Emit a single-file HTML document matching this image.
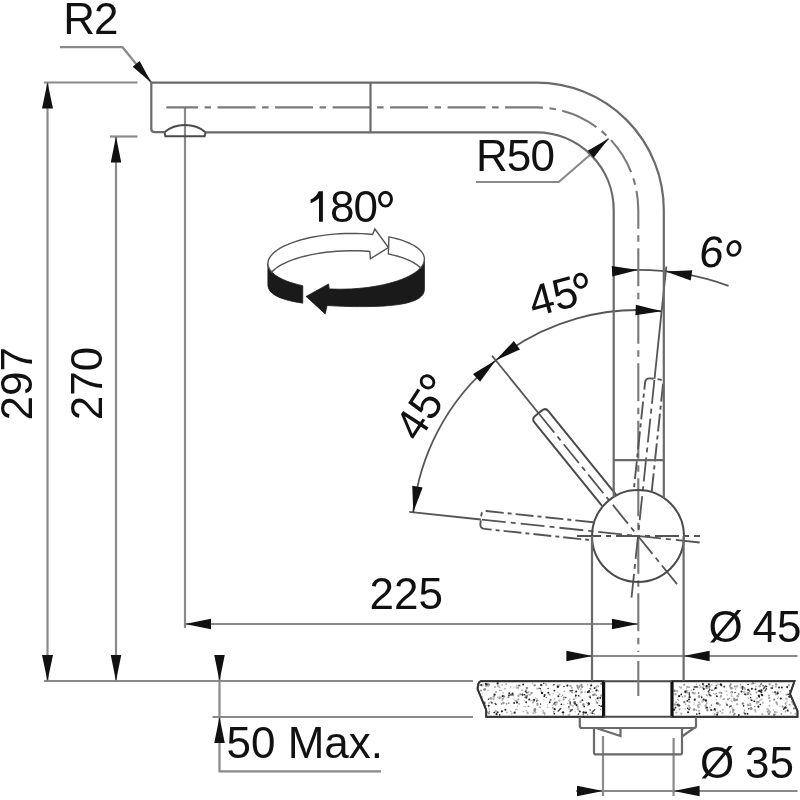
<!DOCTYPE html>
<html><head><meta charset="utf-8"><style>
html,body{margin:0;padding:0;background:#fff;}
svg{display:block;will-change:transform;}
text{font-family:"Liberation Sans",sans-serif;font-size:44px;fill:#111;}
.dg{fill:none;stroke:#111;stroke-width:2.9;}
.ah{fill:#111;stroke:none;}
.dim path{fill:none;stroke:#8a8a8a;stroke-width:2.2;}
.dima path{fill:none;stroke:#555;stroke-width:1.8;}
.obj path,.obj circle{fill:none;stroke:#4a4a4a;stroke-width:2.0;}
.objl path{fill:none;stroke:#6a6a6a;stroke-width:2.2;}
.cl path{fill:none;stroke:#7a7a7a;stroke-width:2.1;stroke-dasharray:38 6.5 6.5 6.5;stroke-dashoffset:6.2;}
.cl2 path{fill:none;stroke:#555;stroke-width:1.9;stroke-dasharray:18 4 4 4;}
.cld path{fill:none;stroke:#555;stroke-width:1.8;stroke-dasharray:24 5 5 5;}
.ib{fill:#1a1a1a;stroke:#1a1a1a;stroke-width:0.8;}
.iw{fill:#fff;stroke:#555;stroke-width:1.4;}
.ct{fill:#fff;stroke:#333;stroke-width:1.7;}

.obj2{fill:none;stroke:#4a4a4a;stroke-width:2;}
.hole{stroke:#111;stroke-width:3.2;}
</style></head><body>
<svg width="800" height="800" viewBox="0 0 800 800">
<rect width="800" height="800" fill="#fff"/>
<path class="ct" d="M480.6,681.2H603.6V716.8H486.2V710L477.6,689Q477.8,682.2 480.6,681.2Z"/>
<path class="ct" d="M672,681.2H794.5L790,694L797.5,711V716.8H672Z"/>
<clipPath id="ctc"><path d="M480.6,681.2H603.6V716.8H486.2V710L477.6,689Q477.8,682.2 480.6,681.2Z"/><path d="M672,681.2H794.5L790,694L797.5,711V716.8H672Z"/></clipPath><g class="sp" clip-path="url(#ctc)"><circle cx="518.16" cy="687.83" r="1.06" fill="#999"/><circle cx="579.84" cy="686.01" r="1.01" fill="#aaa"/><circle cx="482.65" cy="696.88" r="0.65" fill="#999"/><circle cx="546.33" cy="684.89" r="1" fill="#aaa"/><circle cx="556.2" cy="701.66" r="0.64" fill="#888"/><circle cx="484.15" cy="690.07" r="0.99" fill="#aaa"/><circle cx="513.91" cy="687.62" r="0.68" fill="#bbb"/><circle cx="547.47" cy="704.82" r="0.67" fill="#aaa"/><circle cx="524.18" cy="700.53" r="0.64" fill="#999"/><circle cx="554.76" cy="698.89" r="0.97" fill="#bbb"/><circle cx="535.73" cy="712.55" r="0.85" fill="#aaa"/><circle cx="576.5" cy="705.37" r="0.77" fill="#bbb"/><circle cx="543.12" cy="711" r="1.11" fill="#bbb"/><circle cx="553.51" cy="685.34" r="0.96" fill="#aaa"/><circle cx="571.89" cy="687.86" r="0.94" fill="#999"/><circle cx="597.29" cy="685.48" r="0.99" fill="#bbb"/><circle cx="520.18" cy="694.21" r="0.95" fill="#888"/><circle cx="486.53" cy="686" r="0.79" fill="#999"/><circle cx="485.52" cy="705.45" r="1.05" fill="#888"/><circle cx="513.29" cy="695.35" r="1.07" fill="#999"/><circle cx="594.64" cy="694.37" r="1.03" fill="#888"/><circle cx="485.31" cy="707.58" r="0.69" fill="#aaa"/><circle cx="527.34" cy="712.34" r="0.95" fill="#aaa"/><circle cx="533.7" cy="700.58" r="1.22" fill="#888"/><circle cx="585.13" cy="691.91" r="0.89" fill="#bbb"/><circle cx="562.66" cy="695.17" r="0.76" fill="#999"/><circle cx="499.85" cy="690.42" r="0.76" fill="#888"/><circle cx="581.06" cy="688.83" r="0.8" fill="#aaa"/><circle cx="529.95" cy="694.82" r="1" fill="#aaa"/><circle cx="563.62" cy="699.5" r="1.03" fill="#999"/><circle cx="534.62" cy="710.87" r="1.27" fill="#888"/><circle cx="527.36" cy="695.61" r="0.94" fill="#888"/><circle cx="485.72" cy="685.16" r="0.75" fill="#aaa"/><circle cx="491.63" cy="702.22" r="0.67" fill="#aaa"/><circle cx="544.54" cy="713.37" r="1.03" fill="#999"/><circle cx="586.42" cy="702.65" r="0.7" fill="#bbb"/><circle cx="596.48" cy="702.27" r="0.93" fill="#999"/><circle cx="583.27" cy="714.78" r="0.93" fill="#888"/><circle cx="516.67" cy="687.61" r="1.12" fill="#bbb"/><circle cx="537.35" cy="705.15" r="0.96" fill="#aaa"/><circle cx="595.92" cy="699.9" r="0.7" fill="#999"/><circle cx="572.01" cy="692.54" r="1.05" fill="#999"/><circle cx="564.33" cy="691.36" r="0.86" fill="#aaa"/><circle cx="522.11" cy="690.13" r="0.98" fill="#bbb"/><circle cx="556.92" cy="702.62" r="1.15" fill="#aaa"/><circle cx="577.95" cy="709.19" r="1.12" fill="#aaa"/><circle cx="502.79" cy="698.77" r="1.11" fill="#999"/><circle cx="575.97" cy="698.11" r="0.74" fill="#bbb"/><circle cx="533.46" cy="712.98" r="1.29" fill="#bbb"/><circle cx="487.99" cy="686.27" r="0.93" fill="#bbb"/><circle cx="503.34" cy="702.97" r="1.23" fill="#999"/><circle cx="537.45" cy="703.9" r="1.16" fill="#999"/><circle cx="581.5" cy="686.84" r="0.87" fill="#aaa"/><circle cx="537.28" cy="688.71" r="1.15" fill="#bbb"/><circle cx="488.76" cy="713.28" r="1.11" fill="#888"/><circle cx="527.77" cy="713.3" r="1.11" fill="#aaa"/><circle cx="601.15" cy="683.88" r="1.01" fill="#888"/><circle cx="578.01" cy="687.68" r="1.18" fill="#888"/><circle cx="559.5" cy="694.21" r="0.98" fill="#aaa"/><circle cx="480.65" cy="708.58" r="1.11" fill="#999"/><circle cx="543.3" cy="712.88" r="0.9" fill="#aaa"/><circle cx="580.44" cy="689.75" r="0.78" fill="#bbb"/><circle cx="540.14" cy="707.44" r="0.83" fill="#888"/><circle cx="581.44" cy="684.95" r="1.12" fill="#888"/><circle cx="560.15" cy="709.08" r="0.96" fill="#aaa"/><circle cx="543.95" cy="699.75" r="0.61" fill="#888"/><circle cx="574.29" cy="702.47" r="1.14" fill="#aaa"/><circle cx="499.37" cy="698.15" r="1.11" fill="#999"/><circle cx="518.42" cy="699.59" r="0.99" fill="#999"/><circle cx="587.52" cy="684.82" r="0.73" fill="#999"/><circle cx="573.76" cy="699.25" r="0.99" fill="#999"/><circle cx="532.96" cy="702.6" r="0.95" fill="#aaa"/><circle cx="563.9" cy="697.48" r="0.97" fill="#888"/><circle cx="540.96" cy="690.92" r="0.97" fill="#bbb"/><circle cx="592.43" cy="711.57" r="0.74" fill="#888"/><circle cx="495" cy="686.89" r="0.91" fill="#999"/><circle cx="561.22" cy="696.71" r="0.75" fill="#bbb"/><circle cx="575.21" cy="711.7" r="0.71" fill="#bbb"/><circle cx="495.73" cy="711.25" r="1.28" fill="#aaa"/><circle cx="570.59" cy="686.01" r="1.22" fill="#aaa"/><circle cx="600.74" cy="709.64" r="0.71" fill="#888"/><circle cx="601.27" cy="695.92" r="0.89" fill="#bbb"/><circle cx="517.5" cy="706.11" r="0.61" fill="#888"/><circle cx="532.62" cy="683.58" r="0.83" fill="#bbb"/><circle cx="541.52" cy="685.06" r="1.29" fill="#aaa"/><circle cx="598.49" cy="686.35" r="0.79" fill="#999"/><circle cx="590.33" cy="688.81" r="1.13" fill="#888"/><circle cx="583.35" cy="704.63" r="1.26" fill="#888"/><circle cx="496.52" cy="712.41" r="1" fill="#bbb"/><circle cx="489.09" cy="684.84" r="1.08" fill="#888"/><circle cx="589.02" cy="691.61" r="0.61" fill="#999"/><circle cx="577.4" cy="685.68" r="1.2" fill="#999"/><circle cx="510.79" cy="686.89" r="0.61" fill="#888"/><circle cx="592.91" cy="691.57" r="0.69" fill="#aaa"/><circle cx="594.33" cy="714.01" r="0.78" fill="#aaa"/><circle cx="503.02" cy="692.98" r="0.81" fill="#aaa"/><circle cx="513.96" cy="699" r="0.72" fill="#bbb"/><circle cx="577.66" cy="714.82" r="0.63" fill="#999"/><circle cx="568.9" cy="700.63" r="0.73" fill="#888"/><circle cx="508.46" cy="697.31" r="1.06" fill="#888"/><circle cx="559.41" cy="700.47" r="1.22" fill="#bbb"/><circle cx="563.28" cy="714.44" r="0.84" fill="#aaa"/><circle cx="528.18" cy="694.12" r="0.64" fill="#aaa"/><circle cx="479.77" cy="703.01" r="1.22" fill="#888"/><circle cx="498.24" cy="685.7" r="1.19" fill="#bbb"/><circle cx="552.25" cy="705.17" r="0.63" fill="#aaa"/><circle cx="497.53" cy="697.27" r="0.78" fill="#bbb"/><circle cx="598.61" cy="700.51" r="0.77" fill="#bbb"/><circle cx="505.02" cy="688.85" r="0.83" fill="#999"/><circle cx="536.86" cy="699.09" r="0.74" fill="#999"/><circle cx="489.27" cy="709.15" r="0.7" fill="#999"/><circle cx="526.85" cy="692.59" r="1.04" fill="#999"/><circle cx="550.61" cy="699.93" r="1.13" fill="#888"/><circle cx="572.77" cy="706.06" r="0.95" fill="#bbb"/><circle cx="567.8" cy="703.58" r="0.63" fill="#888"/><circle cx="569" cy="708.99" r="0.7" fill="#999"/><circle cx="580.47" cy="701.69" r="1.22" fill="#aaa"/><circle cx="488.55" cy="684.34" r="1.05" fill="#999"/><circle cx="524.7" cy="697.44" r="0.64" fill="#999"/><circle cx="555.65" cy="704.78" r="0.94" fill="#999"/><circle cx="534.66" cy="685.24" r="1.25" fill="#999"/><circle cx="559.75" cy="685.11" r="1.12" fill="#bbb"/><circle cx="578.34" cy="710.08" r="0.76" fill="#aaa"/><circle cx="506.61" cy="703.8" r="0.92" fill="#888"/><circle cx="487.52" cy="712.13" r="0.8" fill="#999"/><circle cx="554.5" cy="703.57" r="0.65" fill="#aaa"/><circle cx="519.14" cy="703.85" r="1.09" fill="#aaa"/><circle cx="479.55" cy="684.94" r="0.79" fill="#999"/><circle cx="563.83" cy="704.62" r="0.8" fill="#bbb"/><circle cx="535.62" cy="697.92" r="0.68" fill="#aaa"/><circle cx="516.65" cy="685.75" r="0.93" fill="#bbb"/><circle cx="534.91" cy="709.24" r="1.28" fill="#888"/><circle cx="601.25" cy="695.38" r="1.24" fill="#aaa"/><circle cx="487.25" cy="685.89" r="1.12" fill="#bbb"/><circle cx="596.14" cy="687.24" r="1.17" fill="#bbb"/><circle cx="587.97" cy="705.51" r="0.76" fill="#888"/><circle cx="526.87" cy="688.09" r="1.26" fill="#888"/><circle cx="528.27" cy="706.27" r="0.89" fill="#888"/><circle cx="517.19" cy="709.89" r="0.6" fill="#bbb"/><circle cx="582.05" cy="686.84" r="1.25" fill="#999"/><circle cx="589.79" cy="692.27" r="0.86" fill="#888"/><circle cx="526.38" cy="710.84" r="0.65" fill="#888"/><circle cx="571.7" cy="710.34" r="0.8" fill="#999"/><circle cx="581.5" cy="692.14" r="1.25" fill="#aaa"/><circle cx="598.41" cy="696.96" r="0.82" fill="#bbb"/><circle cx="575.36" cy="696.69" r="0.62" fill="#888"/><circle cx="591.26" cy="713.1" r="0.98" fill="#999"/><circle cx="484.14" cy="706.44" r="0.92" fill="#aaa"/><circle cx="557.92" cy="692.16" r="0.63" fill="#aaa"/><circle cx="499.17" cy="696.28" r="0.8" fill="#bbb"/><circle cx="569.64" cy="714.24" r="0.78" fill="#aaa"/><circle cx="515.3" cy="700.83" r="0.88" fill="#aaa"/><circle cx="557.76" cy="685.41" r="0.95" fill="#888"/><circle cx="546.25" cy="697.5" r="0.83" fill="#888"/><circle cx="531" cy="700.53" r="0.77" fill="#aaa"/><circle cx="520.4" cy="685.92" r="0.77" fill="#bbb"/><circle cx="578.36" cy="689.47" r="0.61" fill="#888"/><circle cx="525.47" cy="706.87" r="0.75" fill="#bbb"/><circle cx="519.94" cy="684.99" r="0.79" fill="#bbb"/><circle cx="493.61" cy="699.11" r="1.04" fill="#aaa"/><circle cx="489.48" cy="711.7" r="0.87" fill="#888"/><circle cx="531.55" cy="692.98" r="1.17" fill="#999"/><circle cx="493.78" cy="696.61" r="1.13" fill="#888"/><circle cx="598.07" cy="698.67" r="0.65" fill="#888"/><circle cx="598.56" cy="690.95" r="0.68" fill="#aaa"/><circle cx="496.86" cy="714.1" r="0.68" fill="#888"/><circle cx="488.54" cy="707.86" r="0.6" fill="#aaa"/><circle cx="506.84" cy="712.44" r="1.05" fill="#bbb"/><circle cx="597.34" cy="703.05" r="0.97" fill="#888"/><circle cx="564.62" cy="686.59" r="0.65" fill="#aaa"/><circle cx="526.12" cy="690.15" r="1.02" fill="#999"/><circle cx="544.65" cy="714.88" r="0.8" fill="#bbb"/><circle cx="557.93" cy="711.28" r="0.93" fill="#aaa"/><circle cx="545.83" cy="683.94" r="0.89" fill="#bbb"/><circle cx="484.86" cy="689.21" r="1.22" fill="#888"/><circle cx="488.06" cy="690.29" r="0.9" fill="#bbb"/><circle cx="506.12" cy="684.09" r="0.84" fill="#888"/><circle cx="522.93" cy="695.68" r="0.6" fill="#bbb"/><circle cx="569.65" cy="699.16" r="0.74" fill="#aaa"/><circle cx="516.65" cy="709.24" r="0.76" fill="#aaa"/><circle cx="510.86" cy="711.46" r="0.68" fill="#888"/><circle cx="553.65" cy="711.69" r="0.94" fill="#999"/><circle cx="595.65" cy="687.68" r="0.88" fill="#aaa"/><circle cx="480.93" cy="702.08" r="0.89" fill="#999"/><circle cx="500.83" cy="697.39" r="1.1" fill="#bbb"/><circle cx="568.86" cy="714.92" r="1.25" fill="#bbb"/><circle cx="501.64" cy="703.88" r="0.97" fill="#888"/><circle cx="481.95" cy="704.26" r="0.87" fill="#bbb"/><circle cx="600.14" cy="697.16" r="0.68" fill="#999"/><circle cx="512.7" cy="694.25" r="1.27" fill="#999"/><circle cx="547.58" cy="707.28" r="0.87" fill="#bbb"/><circle cx="579.93" cy="696.84" r="0.63" fill="#888"/><circle cx="502.27" cy="700.33" r="0.91" fill="#bbb"/><circle cx="523.17" cy="711.7" r="0.62" fill="#888"/><circle cx="508.75" cy="703.01" r="0.88" fill="#888"/><circle cx="482.32" cy="685" r="1.24" fill="#bbb"/><circle cx="502.17" cy="685.01" r="1.02" fill="#bbb"/><circle cx="511.77" cy="713.65" r="1.03" fill="#bbb"/><circle cx="570.56" cy="705.07" r="1.25" fill="#bbb"/><circle cx="478.47" cy="707.18" r="1.24" fill="#999"/><circle cx="481.01" cy="690.48" r="0.93" fill="#888"/><circle cx="596.28" cy="695.37" r="0.78" fill="#888"/><circle cx="579.04" cy="687.25" r="0.95" fill="#999"/><circle cx="577.52" cy="706.63" r="1.18" fill="#aaa"/><circle cx="553.3" cy="693.49" r="0.82" fill="#bbb"/><circle cx="575.2" cy="702.06" r="0.96" fill="#888"/><circle cx="571.36" cy="690.91" r="0.65" fill="#999"/><circle cx="537.73" cy="700.43" r="0.71" fill="#888"/><circle cx="587.55" cy="714.61" r="0.79" fill="#999"/><circle cx="503.83" cy="696.47" r="1.29" fill="#888"/><circle cx="499.48" cy="687.25" r="0.92" fill="#aaa"/><circle cx="570.75" cy="710.1" r="1.07" fill="#999"/><circle cx="574.69" cy="692.41" r="0.8" fill="#bbb"/><circle cx="524.25" cy="706.62" r="0.74" fill="#aaa"/><circle cx="501.03" cy="690.54" r="0.8" fill="#aaa"/><circle cx="518.47" cy="695.67" r="1.29" fill="#aaa"/><circle cx="558.56" cy="686.22" r="0.92" fill="#999"/><circle cx="490.69" cy="698.19" r="1.17" fill="#888"/><circle cx="591.38" cy="684.29" r="0.81" fill="#999"/><circle cx="484.25" cy="702.22" r="1.18" fill="#aaa"/><circle cx="593.34" cy="694.91" r="1.21" fill="#888"/><circle cx="552.78" cy="707.8" r="1.07" fill="#999"/><circle cx="491.12" cy="702.08" r="1.03" fill="#aaa"/><circle cx="482.64" cy="693.88" r="0.63" fill="#bbb"/><circle cx="482.74" cy="706.43" r="1.24" fill="#999"/><circle cx="579.54" cy="696.09" r="0.86" fill="#bbb"/><circle cx="487.66" cy="684.01" r="0.95" fill="#888"/><circle cx="485.85" cy="686.24" r="0.88" fill="#aaa"/><circle cx="557.26" cy="685.92" r="0.71" fill="#bbb"/><circle cx="528.81" cy="692.07" r="0.82" fill="#999"/><circle cx="516.73" cy="701.13" r="0.85" fill="#888"/><circle cx="480.26" cy="707.53" r="1.16" fill="#aaa"/><circle cx="526.45" cy="695.96" r="1.26" fill="#888"/><circle cx="589.8" cy="696.56" r="1.17" fill="#888"/><circle cx="549.65" cy="694.67" r="1.14" fill="#aaa"/><circle cx="479.84" cy="700.65" r="1.05" fill="#888"/><circle cx="489.04" cy="702.91" r="0.86" fill="#aaa"/><circle cx="496.09" cy="692.07" r="0.96" fill="#999"/><circle cx="491.49" cy="698.7" r="1.16" fill="#aaa"/><circle cx="515.4" cy="709.79" r="0.63" fill="#888"/><circle cx="517" cy="702.44" r="1.02" fill="#222"/><circle cx="488.7" cy="705.79" r="1.04" fill="#222"/><circle cx="588.5" cy="703.49" r="1.13" fill="#222"/><circle cx="555.01" cy="702.67" r="0.8" fill="#222"/><circle cx="536.65" cy="701.09" r="0.72" fill="#222"/><circle cx="594.38" cy="688.01" r="0.88" fill="#222"/><circle cx="496.53" cy="714.06" r="1.11" fill="#222"/><circle cx="501.88" cy="711.28" r="1.12" fill="#222"/><circle cx="561.36" cy="704.37" r="0.86" fill="#222"/><circle cx="526.34" cy="697.58" r="1.12" fill="#222"/><circle cx="574.48" cy="703.77" r="0.85" fill="#222"/><circle cx="508.91" cy="695.45" r="0.88" fill="#222"/><circle cx="540.44" cy="688.72" r="0.7" fill="#222"/><circle cx="600.28" cy="697.89" r="0.92" fill="#222"/><circle cx="554.7" cy="709.21" r="1.12" fill="#222"/><circle cx="578.51" cy="695.81" r="0.73" fill="#222"/><circle cx="522.46" cy="694.69" r="1.1" fill="#222"/><circle cx="540.54" cy="704.03" r="0.72" fill="#222"/><circle cx="494.15" cy="712.51" r="0.86" fill="#222"/><circle cx="567.33" cy="685.56" r="1.08" fill="#222"/><circle cx="588.96" cy="703.89" r="1.09" fill="#222"/><circle cx="481.21" cy="685.12" r="1.01" fill="#222"/><circle cx="563.88" cy="686.51" r="0.77" fill="#222"/><circle cx="587.83" cy="692.21" r="1.11" fill="#222"/><circle cx="576.58" cy="704.96" r="1.06" fill="#222"/><circle cx="505.42" cy="709.66" r="1.01" fill="#222"/><circle cx="509.28" cy="693.36" r="1.01" fill="#222"/><circle cx="590.23" cy="697.6" r="0.83" fill="#222"/><circle cx="597.58" cy="698.36" r="1" fill="#222"/><circle cx="554.37" cy="690.6" r="0.89" fill="#222"/><circle cx="502.67" cy="695.91" r="1.02" fill="#222"/><circle cx="512.5" cy="693.49" r="0.89" fill="#222"/><circle cx="576.22" cy="691.46" r="1.08" fill="#222"/><circle cx="484.02" cy="710.47" r="1.18" fill="#222"/><circle cx="534.18" cy="699.69" r="1.04" fill="#222"/><circle cx="589.12" cy="691.07" r="0.97" fill="#222"/><circle cx="584.22" cy="706.61" r="0.89" fill="#222"/><circle cx="524.59" cy="694.81" r="0.77" fill="#222"/><circle cx="519.02" cy="685.6" r="0.82" fill="#222"/><circle cx="554.31" cy="713.66" r="0.85" fill="#222"/><circle cx="542" cy="692.92" r="1.18" fill="#222"/><circle cx="585.92" cy="712.71" r="1.15" fill="#222"/><circle cx="568.9" cy="706.91" r="0.81" fill="#222"/><circle cx="514.08" cy="703.02" r="0.91" fill="#222"/><circle cx="523.15" cy="684.53" r="0.94" fill="#222"/><circle cx="553.95" cy="684.46" r="0.73" fill="#222"/><circle cx="548.32" cy="692.72" r="0.96" fill="#222"/><circle cx="544.23" cy="696.22" r="0.85" fill="#222"/><circle cx="494.58" cy="694.72" r="1.11" fill="#222"/><circle cx="497.67" cy="683.45" r="1.1" fill="#222"/><circle cx="565.73" cy="697.43" r="0.73" fill="#222"/><circle cx="495.94" cy="704.3" r="0.83" fill="#222"/><circle cx="578.63" cy="713.95" r="0.73" fill="#222"/><circle cx="579.79" cy="711.57" r="1" fill="#222"/><circle cx="549.73" cy="702.26" r="0.96" fill="#222"/><circle cx="539.11" cy="688.28" r="0.7" fill="#222"/><circle cx="485.63" cy="683.81" r="0.79" fill="#222"/><circle cx="497.74" cy="712.18" r="0.75" fill="#222"/><circle cx="553.97" cy="704.02" r="0.8" fill="#222"/><circle cx="529.23" cy="699.58" r="1.02" fill="#222"/><circle cx="558.3" cy="696.29" r="1.01" fill="#222"/><circle cx="541.06" cy="685.04" r="1.01" fill="#222"/><circle cx="601.26" cy="706.18" r="0.94" fill="#222"/><circle cx="544.76" cy="695.01" r="0.92" fill="#222"/><circle cx="591.12" cy="685.58" r="1.03" fill="#222"/><circle cx="499.75" cy="714.89" r="0.83" fill="#222"/><circle cx="557.86" cy="686.94" r="1.15" fill="#222"/><circle cx="592.72" cy="713.17" r="0.83" fill="#222"/><circle cx="484.51" cy="703.35" r="1.04" fill="#222"/><circle cx="563.03" cy="712.35" r="1.19" fill="#222"/><circle cx="514.66" cy="712.71" r="1.15" fill="#222"/><circle cx="488.59" cy="699.24" r="0.78" fill="#222"/><circle cx="590.18" cy="709.94" r="0.8" fill="#222"/><circle cx="497.74" cy="712.28" r="0.8" fill="#222"/><circle cx="526.2" cy="702.24" r="0.89" fill="#222"/><circle cx="583.64" cy="712.49" r="1.19" fill="#222"/><circle cx="582.35" cy="700.16" r="0.94" fill="#222"/><circle cx="543.8" cy="683.2" r="0.71" fill="#222"/><circle cx="596.51" cy="690.48" r="1.14" fill="#222"/><circle cx="575.86" cy="695.53" r="0.99" fill="#222"/><circle cx="548.09" cy="688.49" r="0.72" fill="#222"/><circle cx="491.87" cy="702.9" r="0.78" fill="#222"/><circle cx="599.2" cy="705.42" r="0.72" fill="#222"/><circle cx="495.16" cy="703.59" r="0.72" fill="#222"/><circle cx="486.41" cy="684.49" r="1.13" fill="#222"/><path d="M572.8,690.38L570.03,690.78" stroke="#444" stroke-width="1.4" stroke-linecap="round"/><path d="M560.8,708.57L558.6,710.7" stroke="#444" stroke-width="1.4" stroke-linecap="round"/><path d="M525.24,691.29L526.88,692.52" stroke="#444" stroke-width="1.4" stroke-linecap="round"/><path d="M594.67,709.77L593.15,711.26" stroke="#444" stroke-width="1.4" stroke-linecap="round"/><path d="M570.09,701.61L570.25,703.8" stroke="#444" stroke-width="1.4" stroke-linecap="round"/><path d="M574.28,702.1L575.79,704.1" stroke="#444" stroke-width="1.4" stroke-linecap="round"/><path d="M512.35,694.6L510.33,695.05" stroke="#444" stroke-width="1.4" stroke-linecap="round"/><path d="M572.27,709.53L570.1,711.45" stroke="#444" stroke-width="1.4" stroke-linecap="round"/><circle cx="732.08" cy="692.2" r="1.12" fill="#888"/><circle cx="677.81" cy="699.6" r="0.67" fill="#888"/><circle cx="759.97" cy="700.21" r="0.75" fill="#999"/><circle cx="744.09" cy="692.19" r="0.91" fill="#aaa"/><circle cx="709.18" cy="707.02" r="0.64" fill="#bbb"/><circle cx="733.88" cy="698.73" r="1.16" fill="#aaa"/><circle cx="791.99" cy="701.96" r="1.27" fill="#bbb"/><circle cx="744.52" cy="688.08" r="1.17" fill="#aaa"/><circle cx="734.79" cy="686.52" r="1.05" fill="#999"/><circle cx="733.82" cy="714.72" r="0.99" fill="#999"/><circle cx="750.61" cy="694.38" r="0.88" fill="#888"/><circle cx="782.8" cy="706.85" r="0.9" fill="#999"/><circle cx="719.38" cy="692.7" r="0.9" fill="#aaa"/><circle cx="720.28" cy="711.29" r="0.76" fill="#888"/><circle cx="689.48" cy="702.01" r="1.08" fill="#999"/><circle cx="716.52" cy="693.45" r="0.71" fill="#888"/><circle cx="754.78" cy="706.74" r="0.72" fill="#888"/><circle cx="758.07" cy="691.23" r="0.76" fill="#bbb"/><circle cx="730.37" cy="711.32" r="0.77" fill="#aaa"/><circle cx="706.63" cy="707.15" r="1.18" fill="#aaa"/><circle cx="762.25" cy="714.19" r="1.11" fill="#bbb"/><circle cx="693.63" cy="693.5" r="0.73" fill="#999"/><circle cx="694.08" cy="704.05" r="0.74" fill="#aaa"/><circle cx="794.03" cy="708.44" r="1.11" fill="#888"/><circle cx="707.41" cy="686.5" r="1.24" fill="#bbb"/><circle cx="699.19" cy="695.43" r="0.62" fill="#888"/><circle cx="778.23" cy="696.97" r="0.76" fill="#bbb"/><circle cx="730.52" cy="687.54" r="1.02" fill="#888"/><circle cx="674.67" cy="690.75" r="1.2" fill="#888"/><circle cx="777.21" cy="704.37" r="1.06" fill="#aaa"/><circle cx="756.91" cy="703.53" r="0.92" fill="#bbb"/><circle cx="705.7" cy="705.42" r="1.23" fill="#aaa"/><circle cx="769.45" cy="705.82" r="1.04" fill="#bbb"/><circle cx="777.63" cy="698.45" r="0.61" fill="#888"/><circle cx="737.23" cy="704.16" r="1.21" fill="#bbb"/><circle cx="768.94" cy="695.44" r="0.94" fill="#999"/><circle cx="678.65" cy="700.39" r="0.71" fill="#aaa"/><circle cx="737.34" cy="686.23" r="1" fill="#aaa"/><circle cx="761.51" cy="699.39" r="1.05" fill="#bbb"/><circle cx="737.65" cy="696.13" r="1.26" fill="#aaa"/><circle cx="794.81" cy="688.88" r="0.96" fill="#999"/><circle cx="762.95" cy="702.65" r="1.05" fill="#bbb"/><circle cx="707.47" cy="695.79" r="0.61" fill="#888"/><circle cx="785.68" cy="703.11" r="1.07" fill="#bbb"/><circle cx="687.33" cy="692.71" r="0.88" fill="#aaa"/><circle cx="795.3" cy="713.75" r="0.92" fill="#aaa"/><circle cx="689.77" cy="707.85" r="1.17" fill="#aaa"/><circle cx="731.24" cy="700.99" r="0.76" fill="#aaa"/><circle cx="717.08" cy="703.44" r="1.17" fill="#888"/><circle cx="731.11" cy="692.42" r="0.98" fill="#aaa"/><circle cx="769.14" cy="698.02" r="1.15" fill="#aaa"/><circle cx="706.63" cy="695.04" r="0.78" fill="#888"/><circle cx="756.82" cy="698.41" r="1.16" fill="#bbb"/><circle cx="717.67" cy="703.94" r="0.82" fill="#888"/><circle cx="726.28" cy="703.39" r="1.06" fill="#bbb"/><circle cx="692.64" cy="692.7" r="0.87" fill="#999"/><circle cx="775" cy="711.99" r="1.15" fill="#aaa"/><circle cx="738.74" cy="694.04" r="1.01" fill="#999"/><circle cx="699.59" cy="685.3" r="0.81" fill="#999"/><circle cx="744.58" cy="710.33" r="0.73" fill="#888"/><circle cx="716.27" cy="687.89" r="1.23" fill="#aaa"/><circle cx="748.36" cy="705.02" r="1.28" fill="#999"/><circle cx="755.55" cy="711.61" r="1.15" fill="#bbb"/><circle cx="698.08" cy="705.17" r="0.97" fill="#888"/><circle cx="755.89" cy="686.74" r="0.68" fill="#888"/><circle cx="702.57" cy="687.46" r="0.95" fill="#999"/><circle cx="733.09" cy="711.97" r="1.09" fill="#aaa"/><circle cx="734.78" cy="700.27" r="1.2" fill="#999"/><circle cx="693.56" cy="693.26" r="1.09" fill="#888"/><circle cx="755.17" cy="709.9" r="0.86" fill="#888"/><circle cx="795.99" cy="704.63" r="0.73" fill="#bbb"/><circle cx="751.61" cy="683.91" r="1.03" fill="#bbb"/><circle cx="772.65" cy="686.01" r="0.94" fill="#aaa"/><circle cx="678.14" cy="705.98" r="1.04" fill="#bbb"/><circle cx="685.52" cy="704.09" r="0.84" fill="#aaa"/><circle cx="708.67" cy="693.94" r="0.78" fill="#999"/><circle cx="774.86" cy="692.37" r="1.18" fill="#888"/><circle cx="714.71" cy="714.5" r="1.21" fill="#bbb"/><circle cx="792.95" cy="703.95" r="1.15" fill="#bbb"/><circle cx="697.46" cy="705.82" r="0.69" fill="#999"/><circle cx="769.67" cy="684.28" r="1.11" fill="#888"/><circle cx="740.54" cy="684.59" r="0.81" fill="#999"/><circle cx="679.66" cy="709.3" r="0.93" fill="#999"/><circle cx="770.26" cy="712.11" r="1.03" fill="#aaa"/><circle cx="750.47" cy="705.28" r="1.02" fill="#999"/><circle cx="699.93" cy="704.34" r="0.92" fill="#aaa"/><circle cx="686.37" cy="688.8" r="0.63" fill="#999"/><circle cx="785.52" cy="703.98" r="0.86" fill="#aaa"/><circle cx="769.96" cy="700.99" r="0.78" fill="#bbb"/><circle cx="696.54" cy="684.1" r="0.61" fill="#999"/><circle cx="734.73" cy="699.71" r="1.18" fill="#888"/><circle cx="744.19" cy="712.4" r="0.91" fill="#999"/><circle cx="756.96" cy="702" r="1.3" fill="#aaa"/><circle cx="732" cy="696.2" r="0.67" fill="#888"/><circle cx="699.9" cy="687.86" r="0.61" fill="#999"/><circle cx="675.14" cy="704.42" r="1.29" fill="#999"/><circle cx="700.63" cy="686.88" r="0.93" fill="#bbb"/><circle cx="761.76" cy="690.75" r="1.11" fill="#aaa"/><circle cx="786.58" cy="694.71" r="1.12" fill="#aaa"/><circle cx="763.03" cy="685.7" r="1.04" fill="#888"/><circle cx="730.19" cy="712.84" r="0.78" fill="#999"/><circle cx="761.5" cy="683.36" r="0.61" fill="#999"/><circle cx="721.45" cy="693" r="1.02" fill="#888"/><circle cx="748.29" cy="693.12" r="1.26" fill="#888"/><circle cx="731.32" cy="688.33" r="1.28" fill="#999"/><circle cx="718.32" cy="703.64" r="1.04" fill="#888"/><circle cx="732.19" cy="707.9" r="0.92" fill="#bbb"/><circle cx="769.72" cy="701.14" r="0.8" fill="#999"/><circle cx="749.87" cy="703.83" r="1.16" fill="#bbb"/><circle cx="780.09" cy="706.22" r="0.61" fill="#aaa"/><circle cx="747.34" cy="692.88" r="0.9" fill="#aaa"/><circle cx="719.95" cy="704.91" r="1.02" fill="#aaa"/><circle cx="772.51" cy="692.07" r="0.6" fill="#bbb"/><circle cx="706.7" cy="688.03" r="1.24" fill="#999"/><circle cx="709.2" cy="687.5" r="1.22" fill="#aaa"/><circle cx="707.41" cy="710.24" r="1.16" fill="#888"/><circle cx="716.32" cy="685.72" r="0.99" fill="#888"/><circle cx="698.45" cy="707.01" r="1.25" fill="#aaa"/><circle cx="711.76" cy="684.84" r="0.88" fill="#aaa"/><circle cx="786.97" cy="701.76" r="0.61" fill="#888"/><circle cx="730.09" cy="685.81" r="1.16" fill="#999"/><circle cx="702.41" cy="701.55" r="1.23" fill="#bbb"/><circle cx="732.14" cy="701.86" r="0.73" fill="#aaa"/><circle cx="685.25" cy="708.79" r="0.8" fill="#bbb"/><circle cx="723.1" cy="699.55" r="0.7" fill="#999"/><circle cx="786.56" cy="698.78" r="1.21" fill="#bbb"/><circle cx="751.19" cy="708.2" r="0.71" fill="#999"/><circle cx="716.08" cy="699.62" r="0.61" fill="#999"/><circle cx="698.97" cy="710.86" r="1" fill="#aaa"/><circle cx="705.91" cy="707.93" r="0.9" fill="#888"/><circle cx="767.6" cy="709.2" r="1.27" fill="#bbb"/><circle cx="776.94" cy="693.84" r="1.3" fill="#888"/><circle cx="684.21" cy="684.63" r="0.99" fill="#888"/><circle cx="733.39" cy="710.06" r="1.23" fill="#888"/><circle cx="786.5" cy="705.6" r="0.66" fill="#bbb"/><circle cx="742.87" cy="703.5" r="1.27" fill="#888"/><circle cx="696.29" cy="710.19" r="0.86" fill="#aaa"/><circle cx="794.99" cy="690.1" r="0.63" fill="#bbb"/><circle cx="788.82" cy="684.9" r="0.99" fill="#999"/><circle cx="776.14" cy="684.51" r="1.15" fill="#888"/><circle cx="680.8" cy="687.63" r="1.13" fill="#aaa"/><circle cx="756.58" cy="692.56" r="1.01" fill="#999"/><circle cx="731.43" cy="694.89" r="0.87" fill="#bbb"/><circle cx="732.72" cy="688.39" r="0.77" fill="#aaa"/><circle cx="785.54" cy="711.55" r="0.93" fill="#aaa"/><circle cx="771.46" cy="688.02" r="1.18" fill="#999"/><circle cx="787.95" cy="710.74" r="1.22" fill="#aaa"/><circle cx="768.95" cy="713.65" r="1.25" fill="#888"/><circle cx="776.75" cy="703.11" r="0.92" fill="#bbb"/><circle cx="713.35" cy="690.48" r="0.68" fill="#bbb"/><circle cx="691.42" cy="690.09" r="0.64" fill="#888"/><circle cx="741.51" cy="687.63" r="1.21" fill="#bbb"/><circle cx="725.03" cy="690.9" r="0.62" fill="#bbb"/><circle cx="714.81" cy="688.37" r="0.94" fill="#bbb"/><circle cx="729.65" cy="698.44" r="0.71" fill="#999"/><circle cx="750.98" cy="708.2" r="1.25" fill="#888"/><circle cx="775.9" cy="686.81" r="1.13" fill="#bbb"/><circle cx="726.71" cy="691.37" r="0.77" fill="#aaa"/><circle cx="685.9" cy="692.26" r="1.23" fill="#999"/><circle cx="775.54" cy="714.31" r="0.7" fill="#999"/><circle cx="727.94" cy="699.25" r="0.96" fill="#888"/><circle cx="674.23" cy="709.63" r="0.97" fill="#aaa"/><circle cx="717.93" cy="684.3" r="0.89" fill="#bbb"/><circle cx="743.7" cy="687.42" r="0.73" fill="#aaa"/><circle cx="760.82" cy="689.29" r="0.66" fill="#999"/><circle cx="782.5" cy="706.39" r="1.13" fill="#aaa"/><circle cx="699.14" cy="702.6" r="1.1" fill="#aaa"/><circle cx="745.12" cy="689.47" r="0.65" fill="#888"/><circle cx="776.61" cy="712.32" r="0.96" fill="#bbb"/><circle cx="714.9" cy="709.94" r="1.21" fill="#888"/><circle cx="685.02" cy="696.1" r="1.13" fill="#aaa"/><circle cx="780.39" cy="691.52" r="0.73" fill="#bbb"/><circle cx="678.47" cy="705.47" r="1" fill="#999"/><circle cx="717.45" cy="712.83" r="1.28" fill="#999"/><circle cx="688.73" cy="705.87" r="1.17" fill="#bbb"/><circle cx="769.05" cy="710.78" r="1" fill="#999"/><circle cx="709.57" cy="686.45" r="1.11" fill="#888"/><circle cx="736.62" cy="699.98" r="0.98" fill="#999"/><circle cx="703.71" cy="685.83" r="1.03" fill="#aaa"/><circle cx="686.53" cy="691.01" r="1.17" fill="#999"/><circle cx="676.37" cy="712.64" r="1.12" fill="#bbb"/><circle cx="676.16" cy="702.18" r="1" fill="#aaa"/><circle cx="759.72" cy="686.29" r="1.21" fill="#aaa"/><circle cx="679.51" cy="686.94" r="0.95" fill="#bbb"/><circle cx="687.42" cy="686.89" r="1.22" fill="#aaa"/><circle cx="779.05" cy="687.71" r="1" fill="#888"/><circle cx="694.05" cy="709.43" r="1.26" fill="#888"/><circle cx="758.65" cy="702.11" r="1.02" fill="#999"/><circle cx="722.27" cy="713.12" r="1.14" fill="#bbb"/><circle cx="722.89" cy="709.83" r="1.1" fill="#bbb"/><circle cx="773.44" cy="710.12" r="0.64" fill="#aaa"/><circle cx="790.86" cy="712.9" r="0.77" fill="#888"/><circle cx="754.9" cy="683.37" r="0.68" fill="#aaa"/><circle cx="682.45" cy="696.86" r="0.95" fill="#999"/><circle cx="701.51" cy="696.46" r="0.88" fill="#888"/><circle cx="751.25" cy="708.9" r="1.22" fill="#999"/><circle cx="678.19" cy="703.53" r="0.79" fill="#bbb"/><circle cx="750.65" cy="708.8" r="0.63" fill="#999"/><circle cx="704.57" cy="699.65" r="0.9" fill="#999"/><circle cx="709.08" cy="692.77" r="1.05" fill="#999"/><circle cx="681.36" cy="713.69" r="1.24" fill="#bbb"/><circle cx="684.31" cy="701.89" r="1.25" fill="#888"/><circle cx="689.12" cy="687.2" r="0.81" fill="#888"/><circle cx="744.44" cy="691.77" r="1.12" fill="#bbb"/><circle cx="776.45" cy="702.52" r="1" fill="#888"/><circle cx="698.55" cy="705.73" r="0.92" fill="#bbb"/><circle cx="748.76" cy="698.01" r="0.82" fill="#aaa"/><circle cx="714.71" cy="689.04" r="0.98" fill="#888"/><circle cx="675.45" cy="694.28" r="1.2" fill="#aaa"/><circle cx="713.52" cy="693.42" r="0.79" fill="#aaa"/><circle cx="710.05" cy="707.71" r="0.71" fill="#999"/><circle cx="747.92" cy="694.14" r="1.06" fill="#888"/><circle cx="775.79" cy="694.33" r="1.13" fill="#aaa"/><circle cx="794.7" cy="704.69" r="1.25" fill="#888"/><circle cx="715.12" cy="694.28" r="1.07" fill="#bbb"/><circle cx="774.19" cy="699.57" r="1.12" fill="#888"/><circle cx="706.78" cy="703.18" r="1.04" fill="#aaa"/><circle cx="724.39" cy="686.31" r="0.89" fill="#999"/><circle cx="734.74" cy="713.81" r="1" fill="#888"/><circle cx="777.69" cy="691.94" r="1.03" fill="#999"/><circle cx="720.31" cy="697.47" r="0.92" fill="#bbb"/><circle cx="709.74" cy="695.5" r="0.99" fill="#888"/><circle cx="753.08" cy="683.22" r="1.12" fill="#888"/><circle cx="720.44" cy="692.6" r="0.98" fill="#aaa"/><circle cx="727.15" cy="695.06" r="0.76" fill="#bbb"/><circle cx="713.51" cy="709.99" r="1.19" fill="#bbb"/><circle cx="698.93" cy="696.65" r="1.24" fill="#999"/><circle cx="677.12" cy="691.21" r="1.23" fill="#bbb"/><circle cx="786.28" cy="707.75" r="0.98" fill="#888"/><circle cx="737.13" cy="699.55" r="1.08" fill="#888"/><circle cx="730.64" cy="684.3" r="1.07" fill="#888"/><circle cx="789.64" cy="704.65" r="0.97" fill="#999"/><circle cx="723.96" cy="699.03" r="1.05" fill="#aaa"/><circle cx="781.34" cy="713.86" r="0.94" fill="#888"/><circle cx="767.61" cy="711.77" r="1.01" fill="#999"/><circle cx="694.83" cy="693.18" r="1.28" fill="#bbb"/><circle cx="736.54" cy="686.54" r="1.23" fill="#bbb"/><circle cx="774.11" cy="714.69" r="1.22" fill="#888"/><circle cx="750.99" cy="699.77" r="1.17" fill="#aaa"/><circle cx="735.6" cy="689.02" r="0.73" fill="#999"/><circle cx="717.09" cy="714.8" r="1.02" fill="#222"/><circle cx="679.16" cy="696.17" r="1.09" fill="#222"/><circle cx="711.42" cy="705.1" r="0.7" fill="#222"/><circle cx="711.14" cy="709.95" r="0.99" fill="#222"/><circle cx="755.51" cy="689.29" r="0.95" fill="#222"/><circle cx="741.5" cy="691.51" r="1.02" fill="#222"/><circle cx="738.84" cy="714.91" r="0.99" fill="#222"/><circle cx="724.15" cy="686.89" r="0.78" fill="#222"/><circle cx="766.66" cy="686.41" r="0.75" fill="#222"/><circle cx="694.81" cy="699.72" r="1.11" fill="#222"/><circle cx="748.79" cy="708.81" r="0.73" fill="#222"/><circle cx="675.52" cy="707.66" r="0.86" fill="#222"/><circle cx="761.29" cy="694.32" r="0.78" fill="#222"/><circle cx="706.53" cy="686.18" r="1.15" fill="#222"/><circle cx="745.04" cy="694.16" r="0.92" fill="#222"/><circle cx="721.05" cy="684.75" r="1.15" fill="#222"/><circle cx="745.08" cy="713.71" r="0.92" fill="#222"/><circle cx="749.66" cy="690.98" r="0.72" fill="#222"/><circle cx="787.56" cy="710.35" r="0.86" fill="#222"/><circle cx="783.66" cy="709.11" r="0.85" fill="#222"/><circle cx="747.51" cy="713.72" r="0.95" fill="#222"/><circle cx="789.86" cy="690.77" r="0.89" fill="#222"/><circle cx="761.65" cy="690.08" r="0.85" fill="#222"/><circle cx="780.79" cy="698.5" r="1.1" fill="#222"/><circle cx="703.69" cy="688.55" r="0.88" fill="#222"/><circle cx="696.76" cy="714.09" r="0.85" fill="#222"/><circle cx="742.51" cy="686.68" r="0.97" fill="#222"/><circle cx="721.04" cy="695.9" r="0.73" fill="#222"/><circle cx="689.04" cy="709.43" r="0.88" fill="#222"/><circle cx="703.88" cy="689.12" r="0.84" fill="#222"/><circle cx="702.94" cy="684.12" r="1.03" fill="#222"/><circle cx="715.65" cy="687.99" r="1.05" fill="#222"/><circle cx="685.3" cy="691.63" r="1.12" fill="#222"/><circle cx="689.59" cy="697.19" r="1.12" fill="#222"/><circle cx="772.2" cy="688.1" r="0.88" fill="#222"/><circle cx="762.14" cy="695.06" r="1.18" fill="#222"/><circle cx="699.38" cy="713.43" r="0.95" fill="#222"/><circle cx="701.73" cy="697.49" r="0.77" fill="#222"/><circle cx="760.19" cy="691.34" r="1.15" fill="#222"/><circle cx="745.68" cy="694.78" r="0.82" fill="#222"/><circle cx="748.2" cy="689.8" r="1.14" fill="#222"/><circle cx="688.98" cy="699.42" r="0.97" fill="#222"/><circle cx="706.99" cy="707.7" r="0.89" fill="#222"/><circle cx="754.22" cy="701.17" r="0.86" fill="#222"/><circle cx="721.57" cy="685.75" r="0.79" fill="#222"/><circle cx="777.82" cy="693.27" r="1.03" fill="#222"/><circle cx="687.29" cy="700.98" r="0.88" fill="#222"/><circle cx="735.04" cy="692.5" r="0.73" fill="#222"/><circle cx="711.98" cy="690.25" r="0.76" fill="#222"/><circle cx="761.44" cy="692.04" r="0.9" fill="#222"/><circle cx="784.89" cy="707.8" r="1.14" fill="#222"/><circle cx="779.08" cy="687.23" r="0.84" fill="#222"/><circle cx="677.61" cy="704.75" r="1.03" fill="#222"/><circle cx="716.87" cy="696.2" r="1.03" fill="#222"/><circle cx="759.31" cy="690.95" r="1.12" fill="#222"/><circle cx="716.96" cy="703.12" r="0.79" fill="#222"/><circle cx="688.06" cy="712.21" r="1.07" fill="#222"/><circle cx="760.94" cy="684.29" r="0.72" fill="#222"/><circle cx="693.77" cy="689.34" r="0.85" fill="#222"/><circle cx="720.45" cy="684.26" r="0.86" fill="#222"/><circle cx="751.87" cy="688.75" r="1.12" fill="#222"/><circle cx="743.56" cy="705.93" r="0.83" fill="#222"/><circle cx="727.06" cy="704.9" r="0.87" fill="#222"/><circle cx="674.12" cy="709.7" r="1.09" fill="#222"/><circle cx="708.93" cy="684.37" r="1.13" fill="#222"/><circle cx="748.1" cy="684.52" r="0.82" fill="#222"/><circle cx="687.56" cy="708.33" r="0.81" fill="#222"/><circle cx="785.57" cy="706.98" r="0.74" fill="#222"/><circle cx="758.75" cy="695.6" r="1.07" fill="#222"/><circle cx="775.11" cy="692" r="0.74" fill="#222"/><circle cx="789.46" cy="696.57" r="1.17" fill="#222"/><circle cx="758.38" cy="706.64" r="1.11" fill="#222"/><circle cx="750.63" cy="697.49" r="0.73" fill="#222"/><circle cx="759.19" cy="696.71" r="0.96" fill="#222"/><circle cx="787.23" cy="687.08" r="1.08" fill="#222"/><circle cx="679.33" cy="705.49" r="1.1" fill="#222"/><circle cx="705.87" cy="700.48" r="1.18" fill="#222"/><circle cx="751.78" cy="700.41" r="0.82" fill="#222"/><circle cx="681.24" cy="694.45" r="0.91" fill="#222"/><circle cx="698.57" cy="692.94" r="0.77" fill="#222"/><circle cx="760.25" cy="704.45" r="0.82" fill="#222"/><circle cx="703.49" cy="699.49" r="0.92" fill="#222"/><circle cx="788.17" cy="694.25" r="0.85" fill="#222"/><circle cx="781.93" cy="687.54" r="0.98" fill="#222"/><circle cx="714.7" cy="709.09" r="0.97" fill="#222"/><path d="M766.46,688.48L765.02,690.99" stroke="#444" stroke-width="1.4" stroke-linecap="round"/><path d="M731.36,705.9L729.48,707" stroke="#444" stroke-width="1.4" stroke-linecap="round"/><path d="M709.31,694.46L710.98,695.72" stroke="#444" stroke-width="1.4" stroke-linecap="round"/><path d="M709.93,689.44L708.35,691.6" stroke="#444" stroke-width="1.4" stroke-linecap="round"/><path d="M689.21,692.82L689.46,695.35" stroke="#444" stroke-width="1.4" stroke-linecap="round"/><path d="M694.09,686.95L697.58,687.07" stroke="#444" stroke-width="1.4" stroke-linecap="round"/><path d="M765.65,686L763.46,688.7" stroke="#444" stroke-width="1.4" stroke-linecap="round"/><path d="M742.46,686.72L742.56,689.37" stroke="#444" stroke-width="1.4" stroke-linecap="round"/></g>
<path style="fill:none;stroke:#333;stroke-width:1.9" d="M480.6,681.2H603.6V716.8H486.2V710L477.6,689Q477.8,682.2 480.6,681.2ZM672,681.2H794.5L790,694L797.5,711V716.8H672Z"/>
<path class="hole" d="M603.6,681.2V716.8M672,681.2V716.8"/><path class="obj2" d="M603.6,681.2H672M603.6,716.8H672"/>
<g class="dim"><path d="M44,82.5H137.5"/><path d="M110,136.5H137.5"/><path d="M47.5,82.5V681"/><path d="M116,136.5V681"/><path d="M44,681H473"/><path d="M212.5,717H473"/><path d="M219.5,655V771.3H381"/><path d="M185,107V628"/><path d="M185,624H638"/><path d="M567,656H797.5"/><path d="M603,736V796M673.6,738V796"/><path d="M576,791H797.5"/><path d="M60,47.2H122.5L151.3,82.5"/><path d="M476,182H558.8L608.8,138.5"/></g><g class="dima"><path d="M612.04,271.27A266,266 0 0 1 728.54,285.88"/><path d="M413.24,512.38A226,226 0 0 1 661.62,311.24"/><path d="M654.52,378.87L666.33,266.48"/><path d="M538.57,413.21L492,355.7"/><path d="M480.87,519.48L409.26,511.96"/></g>
<g class="cl"><path d="M166.3,107.4H536.5A101.8,102.6 0 0 1 638.3,210V652"/></g>
<g class="cl2"><path d="M651.76,491.19L663,384.28Q663.47,379.81 658.99,379.34L650.04,378.4Q645.56,377.92 645.09,382.4L633.86,489.31"/><path d="M593.19,522.24L486.28,511Q481.81,510.53 481.34,515.01L480.4,523.96Q479.92,528.44 484.4,528.91L591.31,540.14"/></g><g class="cld"><path d="M677.02,584.18L538.57,413.21"/><path d="M631.52,597.66L654.52,378.87"/><path d="M699.66,542.48L480.87,519.48"/><path d="M577,536H700"/></g><path d="M638.3,661V696" style="fill:none;stroke:#7a7a7a;stroke-width:2.1"/>
<g class="obj"><path d="M164.4,132.2C170,127.5 176,125 184.8,125C193.6,125 200,127.5 205.6,132.2L204.6,136.3H165.4Z"/><circle cx="638" cy="536" r="46"/><path d="M616.05,494.59L548.39,411.04Q545.56,407.55 542.06,410.38L535.07,416.04Q531.57,418.87 534.41,422.37L602.06,505.92"/></g><g class="objl"><path d="M151.3,82.6H536.5A127.2,127.4 0 0 1 663.8,210V498.1"/><path d="M205.6,132.4H536.5A77.2,77.6 0 0 1 613.7,210V496.9"/><path d="M151.3,82.5V129Q151.3,132.2 155,132.2H164.4"/><path d="M370.5,82.5V132.2"/><path d="M613.7,460.2H664"/><path d="M592,536V681M683.6,536V681"/><path d="M579.8,717V726Q579.8,728 581.8,728H694Q696,728 696,726V717"/><path d="M594,728V752.4Q594,754.4 596,754.4H680Q682,754.4 682,752.4V728"/><path d="M596,728L620.5,736V728"/><path d="M694,728L682,736.5"/></g>
<path class="ah" d="M47.5,82.5L53,108.5L42,108.5Z"/><path class="ah" d="M47.5,681L42,655L53,655Z"/><path class="ah" d="M116,136.5L121.25,162.5L110.75,162.5Z"/><path class="ah" d="M116,681L110.75,655L121.25,655Z"/><path class="ah" d="M219.5,681L214.25,655L224.75,655Z"/><path class="ah" d="M219.5,717L224.75,743L214.25,743Z"/><path class="ah" d="M185,624L211,618.75L211,629.25Z"/><path class="ah" d="M638,624L612,629.25L612,618.75Z"/><path class="ah" d="M592.4,656L566.4,661.25L566.4,650.75Z"/><path class="ah" d="M683.6,656L709.6,650.75L709.6,661.25Z"/><path class="ah" d="M603,791L577,796.25L577,785.75Z"/><path class="ah" d="M673.6,791L699.6,785.75L699.6,796.25Z"/><path class="ah" d="M151.3,82.5L132.64,66.75L139.61,61.06Z"/><path class="ah" d="M608.8,138.5L593.65,157.65L587.74,150.86Z"/><path class="ah" d="M638,270L612.3,276.51L611.79,266.03Z"/><path class="ah" d="M665.8,271.46L692.29,270.24L690.68,280.62Z"/><path class="ah" d="M661.62,311.24L635.39,315.26L635.88,304.77Z"/><path class="ah" d="M495.77,360.37L513.84,340.92L519.97,349.45Z"/><path class="ah" d="M495.77,360.37L480.06,381.76L473,373.99Z"/><path class="ah" d="M413.24,512.38L412.26,485.85L422.62,487.55Z"/>
<g><path class="ib" d="M267.9,263.49L268.09,265.44L268.67,267.36L269.63,269.25L270.97,271.11L272.67,272.92L274.74,274.67L277.16,276.35L279.92,277.96L283.01,279.49L286.4,280.93L290.1,282.27L294.06,283.51L298.29,284.63L302.75,285.65L302.75,303.13L298.29,302.43L294.06,301.65L290.1,300.79L286.4,299.84L283.01,298.79L279.92,297.64L277.16,296.39L274.74,295.05L272.67,293.6L270.97,292.05L269.63,290.4L268.67,288.65L268.09,286.82L267.9,284.91Z"/><path class="ib" d="M424.4,259.11L424.2,261.1L423.6,263.1L422.6,265.08L421.22,267.05L419.44,268.98L417.3,270.88L414.78,272.73L411.92,274.52L408.72,276.24L405.2,277.89L401.38,279.45L397.28,280.91L392.91,282.28L388.3,283.54L383.48,284.69L378.47,285.71L373.29,286.61L367.97,287.39L362.54,288.02L357.03,288.53L351.46,288.89L345.86,289.11L340.27,289.19L334.71,289.12L329.2,288.91L328.6,284L306.1,296.4L325.25,313.9L327,305.53L332.35,305.84L337.76,306.1L343.22,306.31L348.69,306.47L354.15,306.57L359.57,306.61L364.92,306.6L370.18,306.53L375.33,306.39L380.33,306.19L385.16,305.9L389.81,305.54L394.24,305.09L398.43,304.54L402.37,303.9L406.04,303.15L409.41,302.29L412.47,301.32L415.21,300.23L417.61,299.01L419.67,297.68L421.36,296.23L422.68,294.66L423.64,292.98L424.21,291.19L424.4,289.29Z"/><path class="iw" d="M267.9,263.49L268.1,261.51L268.69,259.54L269.67,257.57L271.03,255.62L272.77,253.7L274.88,251.82L277.35,249.98L280.17,248.2L283.32,246.49L286.78,244.85L290.54,243.3L294.59,241.83L298.89,240.47L303.43,239.2L308.18,238.05L313.13,237.02L318.24,236.11L323.5,235.32L328.86,234.67L334.32,234.15L339.83,233.77L345.37,233.52L350.92,233.42L356.45,233.45L361.92,233.63L367.31,233.94L372.6,234.4L374.9,229L388.4,247.6L370.4,258.8L369.8,251.44L364.45,251.06L359.01,250.82L353.5,250.72L347.96,250.76L342.41,250.94L336.88,251.26L331.39,251.71L325.98,252.3L320.67,253.03L315.48,253.88L310.46,254.86L305.61,255.96L300.96,257.17L296.55,258.49L292.38,259.91L288.48,261.42L284.88,263.02L281.58,264.7L278.61,266.45L275.98,268.26L273.7,270.13L271.78,272.03L271.78,272.03L270.09,269.96L268.88,267.84L268.14,265.68L267.9,263.49Z"/><path class="iw" d="M388.9,236.82L393.44,237.83L397.74,238.95L401.77,240.19L405.53,241.53L409,242.98L412.14,244.51L414.95,246.13L417.42,247.83L419.53,249.59L421.27,251.42L422.64,253.29L423.61,255.2L424.2,257.14L424.4,259.11L424.4,259.11L424.16,261.31L423.42,263.52L422.21,265.71L420.52,267.87L420.52,267.87L418.45,265.94L415.97,264.09L413.09,262.33L409.82,260.66L406.18,259.09L402.19,257.63L397.89,256.29L393.28,255.09L388.4,254.02Z"/></g>
<text x="63.25" y="33.5">R</text><text x="94.1" y="33.5">2</text><text x="476.1" y="170.5">R</text><text x="506.8" y="170.5">5</text><text x="530.4" y="170.5">0</text><path class="ah" d="M318.6,191.2H322.9V221.8H319V198.3C316.9,200.3 313.6,202.2 310.6,203.2V199.5C314.2,198 317,195.3 318.6,191.2Z"/><text x="329.9" y="222">8</text><text x="353.6" y="222">0</text><ellipse class="dg" cx="385.5" cy="199.2" rx="6.0" ry="6.9" /><g transform="translate(712 252) skewX(-6) translate(-712 -252)"><text x="699.5" y="266.8">6</text><ellipse class="dg" cx="733.6" cy="248.4" rx="6.0" ry="7.0" /></g><g transform="translate(557.8 296.2) rotate(-15)"><text x="-29" y="14">45</text><ellipse class="dg" cx="26" cy="-9" rx="5.8" ry="6.6"/></g><g transform="translate(422.2 411.2) rotate(-57)"><text x="-29" y="14">45</text><ellipse class="dg" cx="27.5" cy="-11.5" rx="5.8" ry="6.6"/></g><text transform="translate(31.5 420.5) rotate(-90)" x="0" y="0">297</text><text transform="translate(101.8 420.3) rotate(-90)" x="0" y="0">270</text><text x="369.5" y="608.5" >225</text><text x="226.5" y="757.5" >50 Max.</text><text x="708.5" y="641.5">Ø</text><text x="752.6" y="641.5" >45</text><text x="700" y="777.5">Ø</text><text x="745" y="777.5" >35</text>
</svg>
</body></html>
